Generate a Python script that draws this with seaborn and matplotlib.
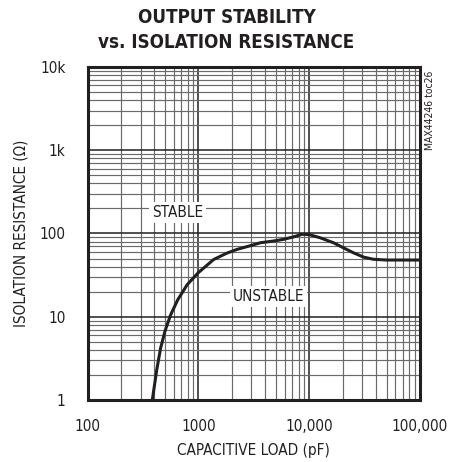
import matplotlib
matplotlib.use("Agg")
import matplotlib.pyplot as plt
import matplotlib.ticker as mticker
import seaborn as sns
import pandas as pd

# values
cap_load_pf = [383, 420, 455, 500, 560, 650, 791, 1000, 1374, 1800, 2230, 2900,
               3620, 4700, 5870, 7200, 8590, 10000, 12500, 16560, 20500, 25100,
               31000, 38000, 50000, 70000, 100000]
iso_res_ohm = [1.0, 2.3, 4.2, 6.8, 10.5, 16.0, 24.3, 34.0, 48.8, 58.0, 64.4, 71.0,
               77.4, 81.0, 85.1, 91.0, 97.8, 97.0, 89.0, 77.4, 67.0, 58.6,
               52.0, 49.0, 48.0, 48.0, 48.0]

x_ticks = [100, 1000, 10000, 100000]
x_labels = ["100", "1000", "10,000", "100,000"]
y_ticks = [1, 10, 100, 1000, 10000]
y_labels = ["1", "10", "100", "1k", "10k"]

df = pd.DataFrame({"cap": cap_load_pf, "res": iso_res_ohm})

sns.set_style("white")
plt.rcParams["font.family"] = ["DejaVu Sans"]
plt.rcParams["font.stretch"] = "condensed"

fig = plt.figure(figsize=(4.53, 4.62), dpi=100)
ax = fig.add_axes([0.1936, 0.1342, 0.7336, 0.7208])

sns.lineplot(data=df, x="cap", y="res", ax=ax, color="#231f20", linewidth=2.2,
             sort=False, zorder=5)

ax.set_xscale("log")
ax.set_yscale("log")
ax.set_xlim(100, 100000)
ax.set_ylim(1, 10000)

ax.xaxis.set_major_locator(mticker.FixedLocator(x_ticks))
ax.yaxis.set_major_locator(mticker.FixedLocator(y_ticks))
ax.xaxis.set_minor_locator(mticker.LogLocator(base=10, subs=range(2, 10)))
ax.yaxis.set_minor_locator(mticker.LogLocator(base=10, subs=range(2, 10)))
ax.xaxis.set_minor_formatter(mticker.NullFormatter())
ax.yaxis.set_minor_formatter(mticker.NullFormatter())
ax.set_xticklabels(x_labels)
ax.set_yticklabels(y_labels)

ax.grid(which="major", color="#231f20", linewidth=1.1)
ax.grid(which="minor", color="#6a6a6a", linewidth=0.85)
ax.tick_params(which="both", length=0)
ax.tick_params(axis="x", pad=14, labelsize=11, colors="#231f20")
ax.tick_params(axis="y", pad=16, labelsize=11, colors="#231f20")
for s in ax.spines.values():
    s.set_visible(True)
    s.set_linewidth(2.2)
    s.set_color("#231f20")

ax.set_xlabel("CAPACITIVE LOAD (pF)", fontsize=11, color="#231f20", labelpad=6)
ax.set_ylabel("ISOLATION RESISTANCE (Ω)", fontsize=11, color="#231f20", labelpad=8)

box = dict(facecolor="white", edgecolor="none", pad=2)
ax.text(643, 178, "STABLE", ha="center", va="center", fontsize=11,
        color="#231f20", bbox=box, zorder=6)
ax.text(4300, 17.6, "UNSTABLE", ha="center", va="center", fontsize=11,
        color="#231f20", bbox=box, zorder=6)

fig.text(0.5, 0.963, "OUTPUT STABILITY", ha="center", va="center",
         fontsize=13.5, fontweight="heavy", color="#231f20")
fig.text(0.5, 0.907, "vs. ISOLATION RESISTANCE", ha="center", va="center",
         fontsize=13.5, fontweight="heavy", color="#231f20")
fig.text(0.950, 0.848, "MAX44246 toc26", rotation=90, ha="center", va="top",
         fontsize=7.5, color="#231f20")

fig.savefig("out.png", dpi=100)
